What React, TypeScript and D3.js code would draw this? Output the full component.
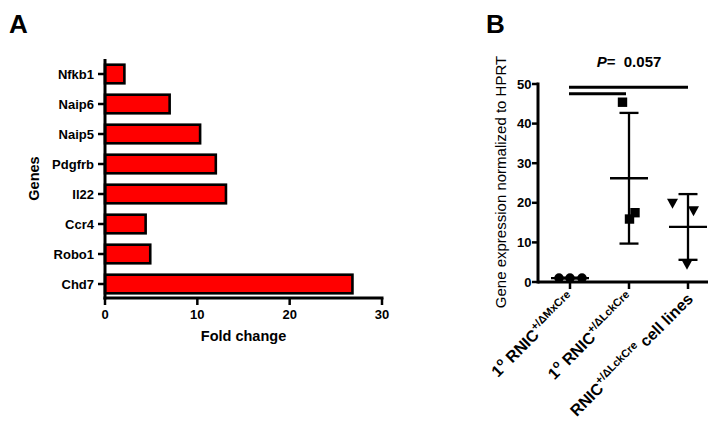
import * as d3 from "d3";
import React from "react";

// Panel A: fold change per gene
const genes = ["Nfkb1", "Naip6", "Naip5", "Pdgfrb", "Il22", "Ccr4", "Robo1", "Chd7"];
const foldChange = [2.1, 7.0, 10.3, 12.0, 13.1, 4.4, 4.9, 26.8];
const foldTicks = [0, 10, 20, 30];

// Panel B: expression per group (points, mean, SD bar)
const groups = ["mx", "lck", "lines"];
const groupPoints = [
  [1.0, 1.0, 1.0],
  [45.4, 15.9, 17.5],
  [19.9, 18.0, 4.5],
];
const groupMean = [1.0, 26.2, 13.9];
const groupLow = [0.9, 9.7, 5.6];
const groupHigh = [1.1, 42.7, 22.2];
const exprTicks = [0, 10, 20, 30, 40, 50];
const pValueText = "0.057";

const FONT = "'Liberation Sans', Arial, Helvetica, sans-serif";

function PanelA() {
  const x = d3.scaleLinear().domain([0, 30]).range([105, 382]);
  const y = d3.scaleBand().domain(genes).range([59, 299]).paddingInner(0.38).paddingOuter(0.19);
  const axisY = 298;

  return (
    <g>
      <text x={9} y={33} fontSize={26} fontWeight="bold" fontFamily={FONT}>A</text>
      {genes.map((g, i) => (
        <rect
          key={g}
          x={x(0)}
          y={y(g)!}
          width={x(foldChange[i]) - x(0)}
          height={y.bandwidth()}
          fill="#ff0000"
          stroke="#000"
          strokeWidth={2.6}
        />
      ))}
      {/* y axis */}
      <line x1={x(0)} x2={x(0)} y1={59} y2={axisY + 1.5} stroke="#000" strokeWidth={3} />
      {genes.map((g) => {
        const cy = y(g)! + y.bandwidth() / 2;
        return (
          <g key={g}>
            <line x1={x(0) - 7} x2={x(0)} y1={cy} y2={cy} stroke="#000" strokeWidth={2.5} />
            <text x={x(0) - 11} y={cy + 4.5} textAnchor="end" fontSize={13} fontWeight="bold" fontFamily={FONT}>
              {g}
            </text>
          </g>
        );
      })}
      {/* x axis */}
      <line x1={x(0) - 1.5} x2={x(30) + 1.5} y1={axisY} y2={axisY} stroke="#000" strokeWidth={3} />
      {foldTicks.map((t) => (
        <g key={t}>
          <line x1={x(t)} x2={x(t)} y1={axisY} y2={axisY + 7} stroke="#000" strokeWidth={2.5} />
          <text x={x(t)} y={axisY + 21} textAnchor="middle" fontSize={13} fontWeight="bold" fontFamily={FONT}>
            {t}
          </text>
        </g>
      ))}
      <text x={(x(0) + x(30)) / 2} y={341} textAnchor="middle" fontSize={14.5} fontWeight="bold" fontFamily={FONT}>
        Fold change
      </text>
      <text
        transform={`translate(39,${(59 + axisY) / 2}) rotate(-90)`}
        textAnchor="middle"
        fontSize={14.5}
        fontWeight="bold"
        fontFamily={FONT}
      >
        Genes
      </text>
    </g>
  );
}

function Marker({ kind, cx, cy }: { kind: number; cx: number; cy: number }) {
  if (kind === 0) return <circle cx={cx} cy={cy} r={4.8} fill="#000" />;
  if (kind === 1) return <rect x={cx - 4.7} y={cy - 4.7} width={9.4} height={9.4} fill="#000" />;
  return <path d="M-5.5,-4.5L5.5,-4.5L0,5.5Z" transform={`translate(${cx},${cy})`} fill="#000" />;
}

function RotLabel({ x, y, parts }: { x: number; y: number; parts: [string, boolean][] }) {
  // parts: [text, isSuperscript]
  let raised = false;
  return (
    <text
      transform={`translate(${x},${y}) rotate(-45)`}
      textAnchor="end"
      fontSize={16}
      fontWeight="bold"
      fontFamily={FONT}
    >
      {parts.map(([t, sup], i) => {
        const dy = sup && !raised ? -7 : !sup && raised ? 7 : 0;
        raised = sup;
        return (
          <tspan key={i} dy={dy} fontSize={sup ? 11 : 16}>
            {t}
          </tspan>
        );
      })}
    </text>
  );
}

function PanelB() {
  const y = d3.scaleLinear().domain([0, 50]).range([282, 84]);
  const x = d3.scalePoint().domain(groups).range([570, 688]);
  const axisX = 538;
  const axisY = y(0);
  const jitter = [
    [-11, 0, 12],
    [-6.5, 0.5, 6],
    [-15.5, 5.5, -1],
  ];
  const meanHalf = 19;
  const capHalf = 9.5;

  return (
    <g>
      <text x={486} y={33} fontSize={26} fontWeight="bold" fontFamily={FONT}>B</text>
      {/* y axis */}
      <line x1={axisX} x2={axisX} y1={y(50) - 1.5} y2={axisY + 1.5} stroke="#000" strokeWidth={3} />
      {exprTicks.map((t) => (
        <g key={t}>
          <line x1={axisX - 6} x2={axisX} y1={y(t)} y2={y(t)} stroke="#000" strokeWidth={2.5} />
          <text x={axisX - 6.5} y={y(t) + 4.5} textAnchor="end" fontSize={13} fontWeight="bold" fontFamily={FONT}>
            {t}
          </text>
        </g>
      ))}
      {/* x axis */}
      <line x1={axisX} x2={708} y1={axisY} y2={axisY} stroke="#000" strokeWidth={3} />
      {groups.map((g) => (
        <line key={g} x1={x(g)!} x2={x(g)!} y1={axisY} y2={axisY + 7} stroke="#000" strokeWidth={2.5} />
      ))}
      {/* SD bars and means */}
      {groups.map((g, i) => {
        const cx = x(g)!;
        return (
          <g key={g} stroke="#000" strokeWidth={2.3}>
            <line x1={cx} x2={cx} y1={y(groupHigh[i])} y2={y(groupLow[i])} />
            <line x1={cx - capHalf} x2={cx + capHalf} y1={y(groupHigh[i])} y2={y(groupHigh[i])} />
            <line x1={cx - capHalf} x2={cx + capHalf} y1={y(groupLow[i])} y2={y(groupLow[i])} />
            <line x1={cx - meanHalf} x2={cx + meanHalf} y1={y(groupMean[i])} y2={y(groupMean[i])} />
          </g>
        );
      })}
      {groups.map((g, i) =>
        groupPoints[i].map((v, j) => (
          <Marker key={`${g}-${j}`} kind={i} cx={x(g)! + jitter[i][j]} cy={y(v)} />
        ))
      )}
      {/* significance lines */}
      <line x1={569} x2={x("lines")!} y1={87.3} y2={87.3} stroke="#000" strokeWidth={3} />
      <line x1={569} x2={x("lck")! - 3} y1={93.8} y2={93.8} stroke="#000" strokeWidth={3} />
      <text x={629} y={67} textAnchor="middle" fontSize={15} fontWeight="bold" fontFamily={FONT}>
        <tspan fontStyle="italic">P</tspan>
        <tspan>{"= \u00a0" + pValueText}</tspan>
      </text>
      {/* y label */}
      <text
        transform={`translate(506,182) rotate(-90)`}
        textAnchor="middle"
        fontSize={15}
        fontFamily={FONT}
      >
        Gene expression normalized to HPRT
      </text>
      {/* x labels */}
      <RotLabel
        x={x("mx")! + 6}
        y={axisY + 18}
        parts={[["1", false], ["o", true], [" RNIC", false], ["+/ΔMxCre", true]]}
      />
      <RotLabel
        x={x("lck")! + 6}
        y={axisY + 18}
        parts={[["1", false], ["o", true], [" RNIC", false], ["+/ΔLckCre", true]]}
      />
      <RotLabel
        x={x("lines")! + 6}
        y={axisY + 18}
        parts={[["RNIC", false], ["+/ΔLckCre", true], [" cell lines", false]]}
      />
    </g>
  );
}

export default function App() {
  return (
    <svg width={710} height={421} style={{ display: "block", position: "absolute", left: 0, top: 0 }}>
      <rect width={710} height={421} fill="#fff" />
      <PanelA />
      <PanelB />
    </svg>
  );
}
